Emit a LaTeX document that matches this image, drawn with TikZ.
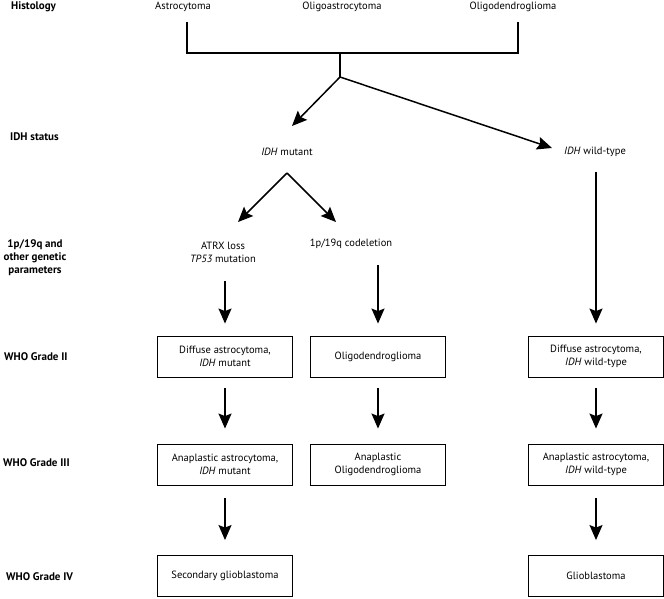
\documentclass[tikz,border=0pt]{standalone}
\usepackage{fontspec}
\setmainfont{PT Sans}
\usetikzlibrary{arrows.meta}
\begin{document}
\begin{tikzpicture}[x=1pt,y=-1pt,
  lab/.style={font=\fontsize{11}{13}\selectfont\bfseries, anchor=west, inner sep=0},
  txt/.style={font=\fontsize{10.5}{13}\selectfont, align=center, inner sep=0},
  box/.style={draw, line width=0.9pt, minimum width=135pt, minimum height=41pt, align=center, font=\fontsize{10.5}{12.5}\selectfont, inner sep=0},
  arr/.style={line width=1.5pt, -{Stealth[length=15pt,width=13pt,inset=2.5pt]}},
  ln/.style={line width=1.3pt}]
\useasboundingbox (0,0) rectangle (664,598);
% row labels
\node[lab] (lhist) at (11,7) {Histology};
\node[lab] (lidh) at (10,137) {IDH status};
\node[lab, anchor=center, align=center] (lgen) at (35,258) {1p/19q and\\other genetic\\parameters};
\node[lab] (lg2) at (4,357) {WHO Grade II};
\node[lab] (lg3) at (3,463) {WHO Grade III};
\node[lab] (lg4) at (6,577) {WHO Grade IV};
% histology
\node[txt] (astro) at (183,7) {Astrocytoma};
\node[txt] (oligoa) at (342,7) {Oligoastrocytoma};
\node[txt] (oligod) at (513,7) {Oligodendroglioma};
\coordinate (tA) at (187,22);
\coordinate (tC) at (518,22);
\coordinate (jn) at (340,53);
\coordinate (br) at (340,77);
\draw[ln] (tA) |- (jn) -| (tC);
\draw[ln] (jn) -- (br);
% IDH status
\node[txt] (mut) at (287,152) {\textit{IDH} mutant};
\node[txt] (wild) at (595,152) {\textit{IDH} wild-type};
\coordinate (tipM) at (292,126);
\coordinate (tipW) at (552,148);
\draw[arr] (br) -- (tipM);
\draw[arr] (br) -- (tipW);
% genetic
\coordinate (apex) at (287,173);
\coordinate (vL) at (238,222);
\coordinate (vR) at (336,222);
\draw[arr] (apex) -- (vL);
\draw[arr] (apex) -- (vR);
\node[txt] (atrx) at (223,252.5) {ATRX loss\\\textit{TP53} mutation};
\node[txt] (codel) at (351,244) {1p/19q codeletion};
% boxes
\node[box] (b2l) at (225,356.5) {Diffuse astrocytoma,\\\textit{IDH} mutant};
\node[box] (b2m) at (378,356.5) {Oligodendroglioma};
\node[box] (b2r) at (596,356.5) {Diffuse astrocytoma,\\\textit{IDH} wild-type};
\node[box] (b3l) at (225,464.5) {Anaplastic astrocytoma,\\\textit{IDH} mutant};
\node[box] (b3m) at (378,464.5) {Anaplastic\\Oligodendroglioma};
\node[box] (b3r) at (596,464.5) {Anaplastic astrocytoma,\\\textit{IDH} wild-type};
\node[box] (b4l) at (225,576) {Secondary glioblastoma};
\node[box] (b4r) at (596,576) {Glioblastoma};
% arrows
\draw[arr, shorten <=18pt, shorten >=12pt] (b2l.north |- atrx.south) -- (b2l.north);
\draw[arr, shorten <=16pt, shorten >=12pt] (b2m.north |- codel.south) -- (b2m.north);
\draw[arr, shorten <=15pt, shorten >=12pt] (b2r.north |- wild.south) -- (b2r.north);
\foreach \c in {l,m,r}{
  \draw[arr, shorten <=11pt, shorten >=15pt] (b2\c.south) -- (b3\c.north);
}
\foreach \c in {l,r}{
  \draw[arr, shorten <=13pt, shorten >=15pt] (b3\c.south) -- (b4\c.north);
}
\end{tikzpicture}
\end{document}
